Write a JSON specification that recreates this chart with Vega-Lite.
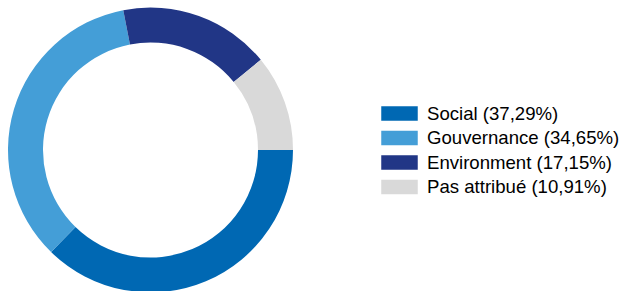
{
  "$schema": "https://vega.github.io/schema/vega-lite/v6.json",
  "width": 301,
  "height": 300,
  "padding": {"left": 0, "top": 0, "right": 318, "bottom": 0},
  "autosize": {"type": "none"},
  "background": "white",
  "data": {
    "values": [
      {"cat": "Social (37,29%)", "value": 37.29, "ord": 1},
      {"cat": "Gouvernance (34,65%)", "value": 34.65, "ord": 2},
      {"cat": "Environment (17,15%)", "value": 17.15, "ord": 3},
      {"cat": "Pas attribué (10,91%)", "value": 10.91, "ord": 4}
    ]
  },
  "mark": {"type": "arc", "outerRadius": 142.5, "innerRadius": 107.5, "strokeWidth": 0},
  "encoding": {
    "theta": {"field": "value", "type": "quantitative", "stack": true, "scale": {"range": [1.5707963, 7.8539816]}},
    "order": {"field": "ord", "type": "quantitative"},
    "color": {
      "field": "cat",
      "type": "nominal",
      "sort": ["Social (37,29%)", "Gouvernance (34,65%)", "Environment (17,15%)", "Pas attribué (10,91%)"],
      "scale": {
        "domain": ["Social (37,29%)", "Gouvernance (34,65%)", "Environment (17,15%)", "Pas attribué (10,91%)"],
        "range": ["#0068b3", "#449ed7", "#213686", "#d9d9d9"]
      },
      "legend": {
        "title": null,
        "orient": "none",
        "legendX": 390,
        "legendY": 104,
        "padding": 0,
        "symbolType": "M-2,-0.8H2V0.8H-2Z",
        "symbolSize": 333,
        "symbolStrokeWidth": 0,
        "symbolOpacity": 1,
        "labelFont": "Liberation Sans",
        "labelFontSize": 18.6,
        "labelColor": "#000000",
        "labelOffset": 18,
        "labelLimit": 300,
        "rowPadding": 4.5
      }
    }
  }
}
